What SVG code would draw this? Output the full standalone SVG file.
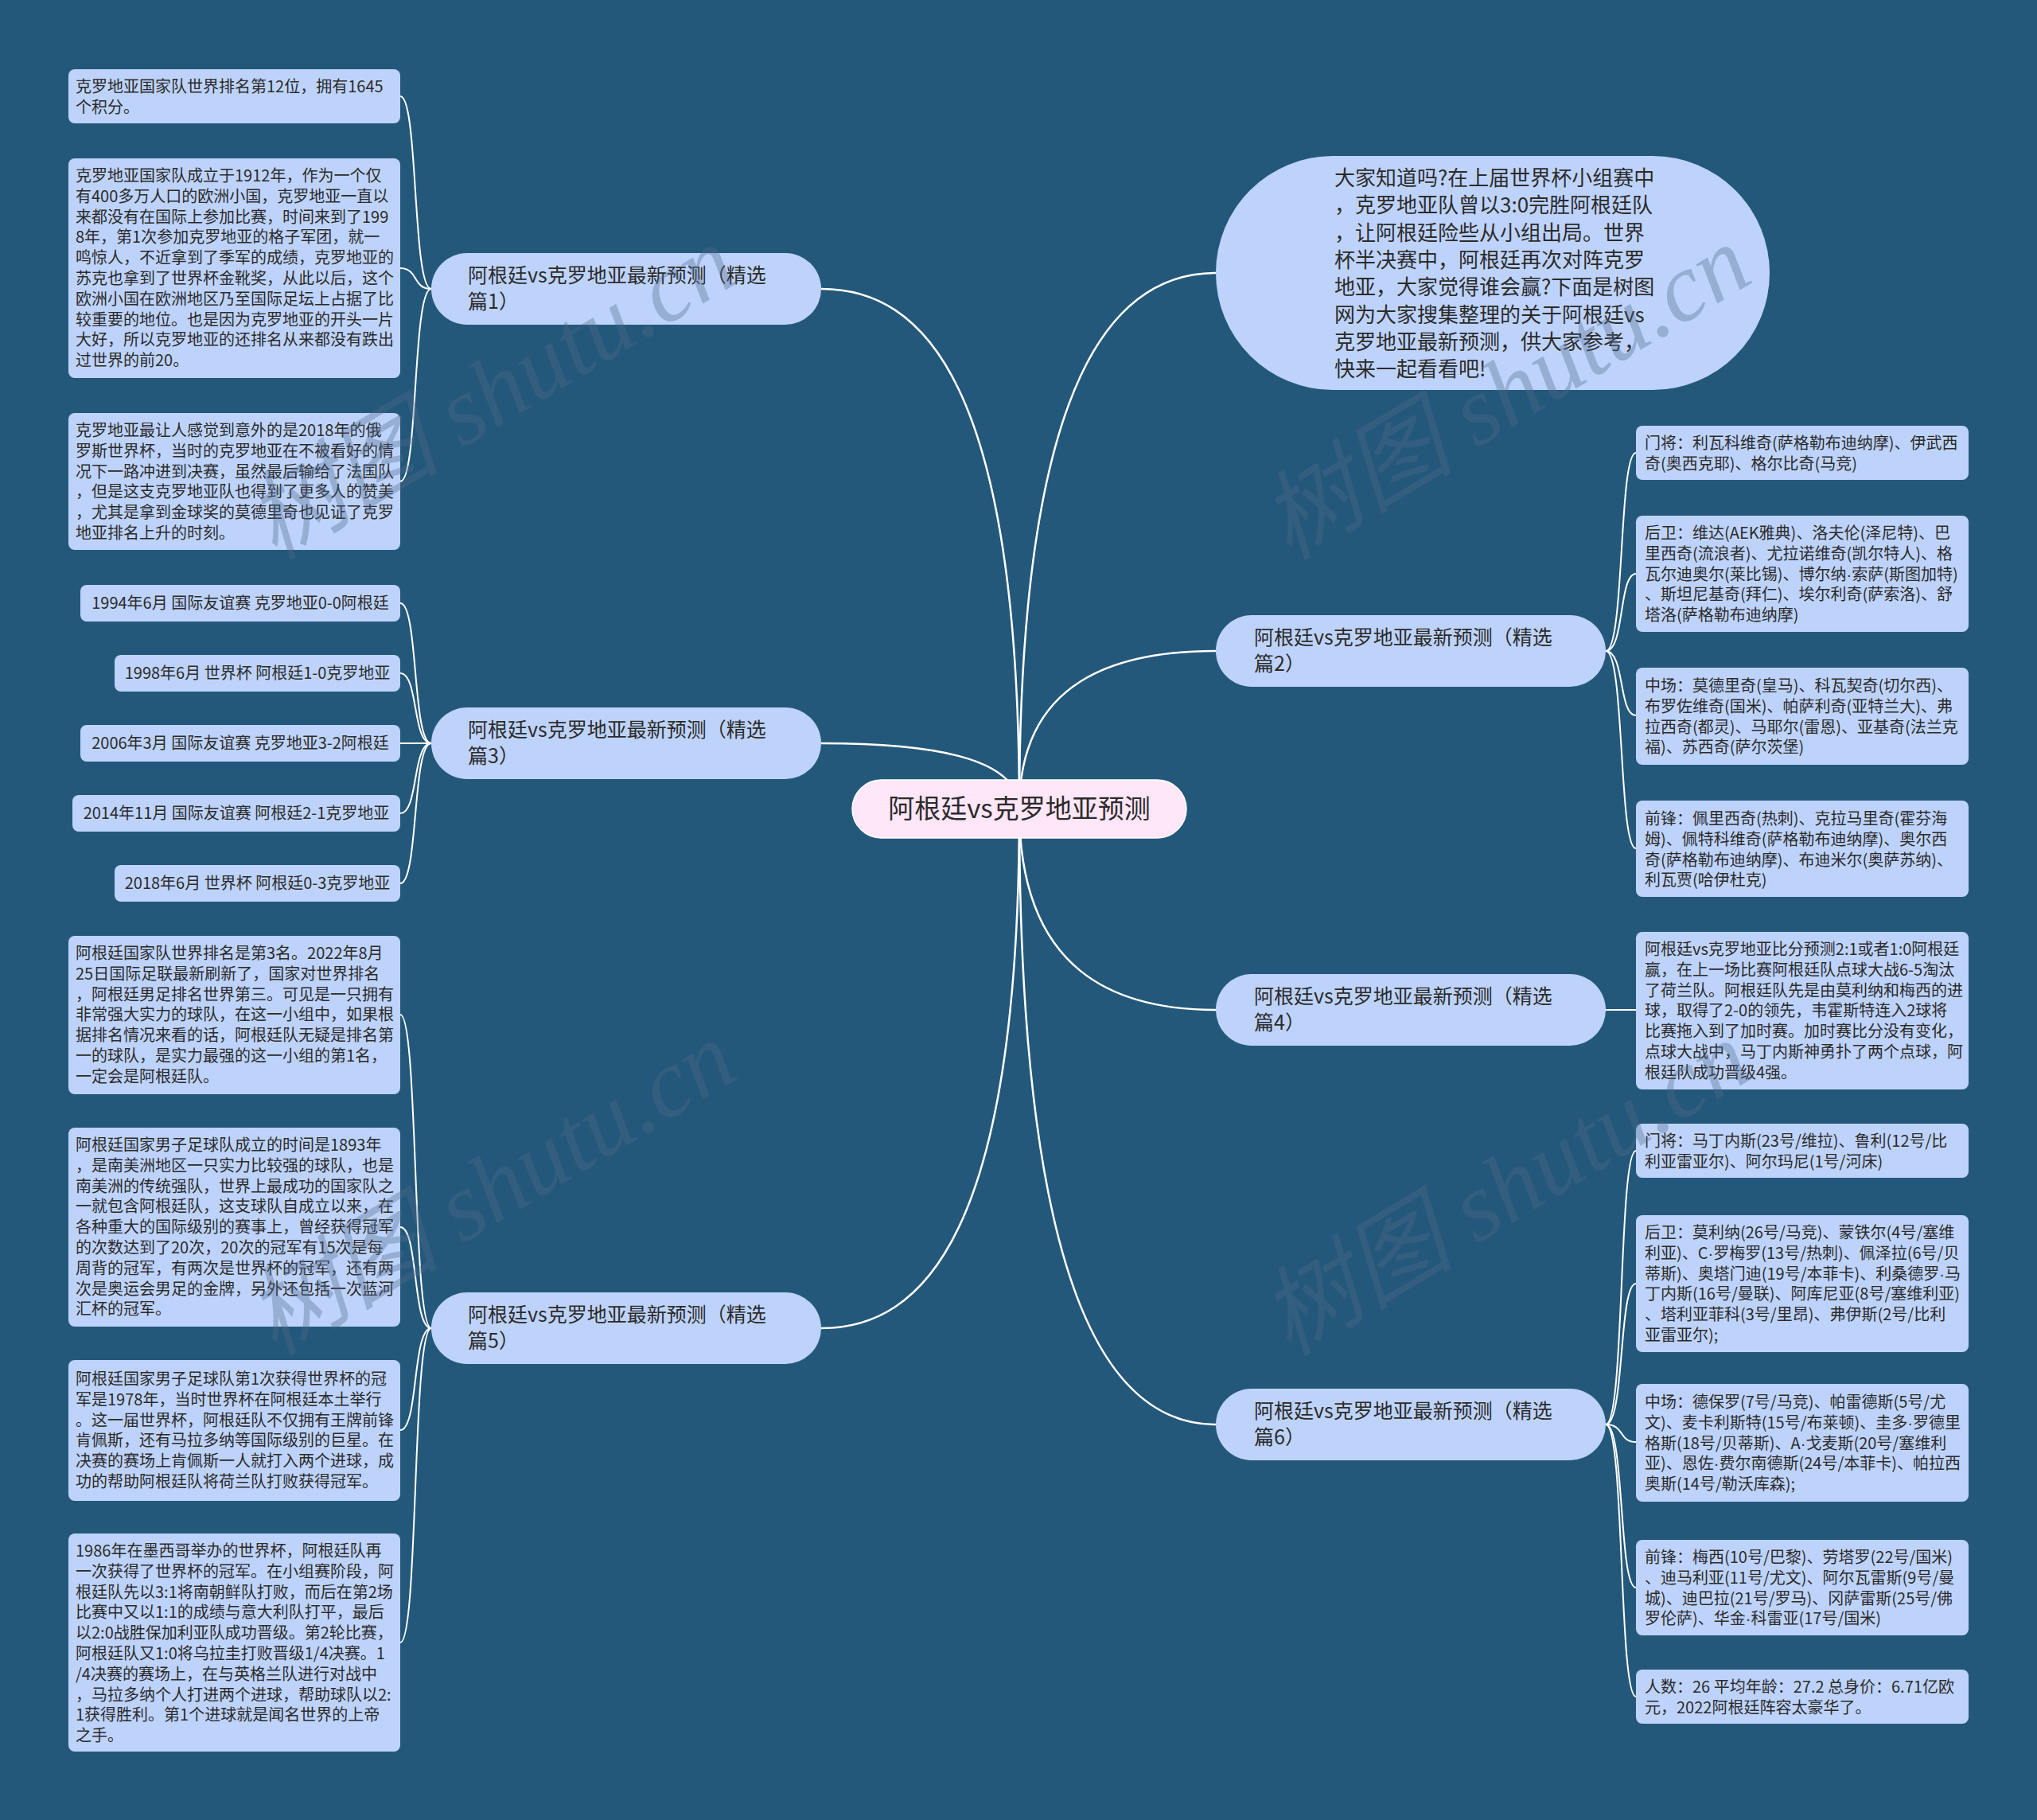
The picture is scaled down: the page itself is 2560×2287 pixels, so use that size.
<svg xmlns="http://www.w3.org/2000/svg" width="2560" height="2287" viewBox="0 0 2560 2287">
<style>
.bg{fill:#24587a}
.box{fill:#bed3fb}
.root{fill:#ffe6f8;stroke:#ffffff;stroke-width:1.5}
.t{font-family:"Noto Sans CJK SC","Noto Sans",sans-serif;font-size:20px;fill:#2b2b2b}
.t1{font-family:"Noto Sans CJK SC","Noto Sans",sans-serif;font-size:25px;fill:#2b2b2b}
.ti{font-family:"Noto Sans CJK SC","Noto Sans",sans-serif;font-size:26px;fill:#2b2b2b}
.tc{font-family:"Noto Sans CJK SC","Noto Sans",sans-serif;font-size:33px;fill:#2b2b2b}
.d{font-family:"Liberation Sans",sans-serif}
.wm{font-family:"Liberation Serif","Noto Sans CJK SC",serif;font-style:italic;font-size:122px;fill:#506a8c;opacity:0.35}
.c{fill:none;stroke:#ffffff;stroke-width:2.5}
.cs{fill:none;stroke:#ffffff;stroke-width:2}
</style>
<rect class="bg" x="0" y="0" width="2560" height="2287"/>

<g id="connectors">
<path class="c" d="M 1032 363 C 1160 363 1281 480 1281 1016"/>
<path class="c" d="M 1032 934 C 1160 934 1281 949 1281 1016"/>
<path class="c" d="M 1032 1669 C 1160 1669 1281 1551 1281 1016"/>
<path class="c" d="M 1528 343 C 1404 343 1281 464 1281 1016"/>
<path class="c" d="M 1528 818 C 1404 818 1281 854 1281 1016"/>
<path class="c" d="M 1528 1269 C 1404 1269 1281 1223 1281 1016"/>
<path class="c" d="M 1528 1790 C 1404 1790 1281 1651 1281 1016"/>
<path class="cs" d="M 542 363 C 518 363 526 121 503 121"/>
<path class="cs" d="M 542 363 C 518 363 526 337 503 337"/>
<path class="cs" d="M 542 363 C 518 363 526 605 503 605"/>
<path class="cs" d="M 542 934 C 518 934 526 758 503 758"/>
<path class="cs" d="M 542 934 C 518 934 526 846 503 846"/>
<path class="cs" d="M 542 934 L 503 934"/>
<path class="cs" d="M 542 934 C 518 934 526 1022 503 1022"/>
<path class="cs" d="M 542 934 C 518 934 526 1110 503 1110"/>
<path class="cs" d="M 542 1669 C 518 1669 526 1275 503 1275"/>
<path class="cs" d="M 542 1669 C 518 1669 526 1542 503 1542"/>
<path class="cs" d="M 542 1669 C 518 1669 526 1797 503 1797"/>
<path class="cs" d="M 542 1669 C 518 1669 526 2064 503 2064"/>
<path class="cs" d="M 2018 818 C 2042 818 2034 569 2056 569"/>
<path class="cs" d="M 2018 818 C 2042 818 2034 721 2056 721"/>
<path class="cs" d="M 2018 818 C 2042 818 2034 899 2056 899"/>
<path class="cs" d="M 2018 818 C 2042 818 2034 1066 2056 1066"/>
<path class="cs" d="M 2018 1269 L 2056 1269"/>
<path class="cs" d="M 2018 1790 C 2042 1790 2034 1446 2056 1446"/>
<path class="cs" d="M 2018 1790 C 2042 1790 2034 1613 2056 1613"/>
<path class="cs" d="M 2018 1790 C 2042 1790 2034 1812 2056 1812"/>
<path class="cs" d="M 2018 1790 C 2042 1790 2034 1995 2056 1995"/>
<path class="cs" d="M 2018 1790 C 2042 1790 2034 2132 2056 2132"/>
</g>

<g id="root">
<rect class="root" x="1071" y="980" width="420" height="73" rx="36.5"/>
<text class="tc" x="1281" y="1028" text-anchor="middle">阿根廷vs克罗地亚预测</text>
</g>

<g id="intro">
<rect class="box" x="1528" y="196" width="696" height="294" rx="147"/>
<text class="ti" x="1677" y="233">大家知道吗?在上届世界杯小组赛中<tspan x="1677" dy="34.3">，克罗地亚队曾以3:0完胜阿根廷队</tspan><tspan x="1677" dy="34.3">，让阿根廷险些从小组出局。世界</tspan><tspan x="1677" dy="34.3">杯半决赛中，阿根廷再次对阵克罗</tspan><tspan x="1677" dy="34.3">地亚，大家觉得谁会赢?下面是树图</tspan><tspan x="1677" dy="34.3">网为大家搜集整理的关于阿根廷vs</tspan><tspan x="1677" dy="34.3">克罗地亚最新预测，供大家参考，</tspan><tspan x="1677" dy="34.3">快来一起看看吧!</tspan></text>
</g>

<g id="b1">
<rect class="box" x="542" y="318" width="490" height="90" rx="45"/>
<text class="t1" x="588" y="355">阿根廷vs克罗地亚最新预测（精选<tspan x="588" dy="33">篇1）</tspan></text>
</g>
<g id="b3">
<rect class="box" x="542" y="889" width="490" height="90" rx="45"/>
<text class="t1" x="588" y="926">阿根廷vs克罗地亚最新预测（精选<tspan x="588" dy="33">篇3）</tspan></text>
</g>
<g id="b5">
<rect class="box" x="542" y="1624" width="490" height="90" rx="45"/>
<text class="t1" x="588" y="1661">阿根廷vs克罗地亚最新预测（精选<tspan x="588" dy="33">篇5）</tspan></text>
</g>
<g id="b2">
<rect class="box" x="1528" y="773" width="490" height="90" rx="45"/>
<text class="t1" x="1576" y="810">阿根廷vs克罗地亚最新预测（精选<tspan x="1576" dy="33">篇2）</tspan></text>
</g>
<g id="b4">
<rect class="box" x="1528" y="1224" width="490" height="90" rx="45"/>
<text class="t1" x="1576" y="1261">阿根廷vs克罗地亚最新预测（精选<tspan x="1576" dy="33">篇4）</tspan></text>
</g>
<g id="b6">
<rect class="box" x="1528" y="1745" width="490" height="90" rx="45"/>
<text class="t1" x="1576" y="1782">阿根廷vs克罗地亚最新预测（精选<tspan x="1576" dy="33">篇6）</tspan></text>
</g>

<g id="a1">
<rect class="box" x="86" y="87" width="417" height="68" rx="8"/>
<text class="t" x="95" y="116">克罗地亚国家队世界排名第12位，拥有1645<tspan x="95" dy="25.8">个积分。</tspan></text>
</g>
<g id="a2">
<rect class="box" x="86" y="199" width="417" height="276" rx="8"/>
<text class="t" x="95" y="228">克罗地亚国家队成立于1912年，作为一个仅<tspan x="95" dy="25.8">有400多万人口的欧洲小国，克罗地亚一直以</tspan><tspan x="95" dy="25.8">来都没有在国际上参加比赛，时间来到了199</tspan><tspan x="95" dy="25.8">8年，第1次参加克罗地亚的格子军团，就一</tspan><tspan x="95" dy="25.8">鸣惊人，不近拿到了季军的成绩，克罗地亚的</tspan><tspan x="95" dy="25.8">苏克也拿到了世界杯金靴奖，从此以后，这个</tspan><tspan x="95" dy="25.8">欧洲小国在欧洲地区乃至国际足坛上占据了比</tspan><tspan x="95" dy="25.8">较重要的地位。也是因为克罗地亚的开头一片</tspan><tspan x="95" dy="25.8">大好，所以克罗地亚的还排名从来都没有跌出</tspan><tspan x="95" dy="25.8">过世界的前20。</tspan></text>
</g>
<g id="a3">
<rect class="box" x="86" y="519" width="417" height="172" rx="8"/>
<text class="t" x="95" y="548">克罗地亚最让人感觉到意外的是2018年的俄<tspan x="95" dy="25.8">罗斯世界杯，当时的克罗地亚在不被看好的情</tspan><tspan x="95" dy="25.8">况下一路冲进到决赛，虽然最后输给了法国队</tspan><tspan x="95" dy="25.8">，但是这支克罗地亚队也得到了更多人的赞美</tspan><tspan x="95" dy="25.8">，尤其是拿到金球奖的莫德里奇也见证了克罗</tspan><tspan x="95" dy="25.8">地亚排名上升的时刻。</tspan></text>
</g>

<g id="m1">
<rect class="box" x="101" y="735" width="402" height="46" rx="8"/>
<text class="t" x="302" y="765" text-anchor="middle">1994年6月 国际友谊赛 克罗地亚0-0阿根廷</text>
</g>
<g id="m2">
<rect class="box" x="144" y="823" width="359" height="46" rx="8"/>
<text class="t" x="323.5" y="853" text-anchor="middle">1998年6月 世界杯 阿根廷1-0克罗地亚</text>
</g>
<g id="m3">
<rect class="box" x="101" y="911" width="402" height="46" rx="8"/>
<text class="t" x="302" y="941" text-anchor="middle">2006年3月 国际友谊赛 克罗地亚3-2阿根廷</text>
</g>
<g id="m4">
<rect class="box" x="91" y="999" width="412" height="46" rx="8"/>
<text class="t" x="297" y="1029" text-anchor="middle">2014年11月 国际友谊赛 阿根廷2-1克罗地亚</text>
</g>
<g id="m5">
<rect class="box" x="144" y="1087" width="359" height="46" rx="8"/>
<text class="t" x="323.5" y="1117" text-anchor="middle">2018年6月 世界杯 阿根廷0-3克罗地亚</text>
</g>

<g id="c1">
<rect class="box" x="86" y="1176" width="417" height="199" rx="8"/>
<text class="t" x="95" y="1205">阿根廷国家队世界排名是第3名。2022年8月<tspan x="95" dy="25.8">25日国际足联最新刷新了，国家对世界排名</tspan><tspan x="95" dy="25.8">，阿根廷男足排名世界第三。可见是一只拥有</tspan><tspan x="95" dy="25.8">非常强大实力的球队，在这一小组中，如果根</tspan><tspan x="95" dy="25.8">据排名情况来看的话，阿根廷队无疑是排名第</tspan><tspan x="95" dy="25.8">一的球队，是实力最强的这一小组的第1名，</tspan><tspan x="95" dy="25.8">一定会是阿根廷队。</tspan></text>
</g>
<g id="c2">
<rect class="box" x="86" y="1417" width="417" height="250" rx="8"/>
<text class="t" x="95" y="1446">阿根廷国家男子足球队成立的时间是1893年<tspan x="95" dy="25.8">，是南美洲地区一只实力比较强的球队，也是</tspan><tspan x="95" dy="25.8">南美洲的传统强队，世界上最成功的国家队之</tspan><tspan x="95" dy="25.8">一就包含阿根廷队，这支球队自成立以来，在</tspan><tspan x="95" dy="25.8">各种重大的国际级别的赛事上，曾经获得冠军</tspan><tspan x="95" dy="25.8">的次数达到了20次，20次的冠军有15次是每</tspan><tspan x="95" dy="25.8">周背的冠军，有两次是世界杯的冠军，还有两</tspan><tspan x="95" dy="25.8">次是奥运会男足的金牌，另外还包括一次蓝河</tspan><tspan x="95" dy="25.8">汇杯的冠军。</tspan></text>
</g>
<g id="c3">
<rect class="box" x="86" y="1709" width="417" height="177" rx="8"/>
<text class="t" x="95" y="1740">阿根廷国家男子足球队第1次获得世界杯的冠<tspan x="95" dy="25.8">军是1978年，当时世界杯在阿根廷本土举行</tspan><tspan x="95" dy="25.8">。这一届世界杯，阿根廷队不仅拥有王牌前锋</tspan><tspan x="95" dy="25.8">肯佩斯，还有马拉多纳等国际级别的巨星。在</tspan><tspan x="95" dy="25.8">决赛的赛场上肯佩斯一人就打入两个进球，成</tspan><tspan x="95" dy="25.8">功的帮助阿根廷队将荷兰队打败获得冠军。</tspan></text>
</g>
<g id="c4">
<rect class="box" x="86" y="1927" width="417" height="274" rx="8"/>
<text class="t" x="95" y="1956">1986年在墨西哥举办的世界杯，阿根廷队再<tspan x="95" dy="25.8">一次获得了世界杯的冠军。在小组赛阶段，阿</tspan><tspan x="95" dy="25.8">根廷队先以3:1将南朝鲜队打败，而后在第2场</tspan><tspan x="95" dy="25.8">比赛中又以1:1的成绩与意大利队打平，最后</tspan><tspan x="95" dy="25.8">以2:0战胜保加利亚队成功晋级。第2轮比赛，</tspan><tspan x="95" dy="25.8">阿根廷队又1:0将乌拉圭打败晋级1/4决赛。1</tspan><tspan x="95" dy="25.8">/4决赛的赛场上，在与英格兰队进行对战中</tspan><tspan x="95" dy="25.8">，马拉多纳个人打进两个进球，帮助球队以2:</tspan><tspan x="95" dy="25.8">1获得胜利。第1个进球就是闻名世界的上帝</tspan><tspan x="95" dy="25.8">之手。</tspan></text>
</g>

<g id="d1">
<rect class="box" x="2056" y="535" width="418" height="68" rx="8"/>
<text class="t" x="2067" y="564">门将：利瓦科维奇(萨格勒布迪纳摩)、伊武西<tspan x="2067" dy="25.8">奇(奥西克耶)、格尔比奇(马竞)</tspan></text>
</g>
<g id="d2">
<rect class="box" x="2056" y="648" width="418" height="146" rx="8"/>
<text class="t" x="2067" y="677">后卫：维达(AEK雅典)、洛夫伦(泽尼特)、巴<tspan x="2067" dy="25.8">里西奇(流浪者)、尤拉诺维奇(凯尔特人)、格</tspan><tspan x="2067" dy="25.8">瓦尔迪奥尔(莱比锡)、博尔纳<tspan class="d">·</tspan>索萨(斯图加特)</tspan><tspan x="2067" dy="25.8">、斯坦尼基奇(拜仁)、埃尔利奇(萨索洛)、舒</tspan><tspan x="2067" dy="25.8">塔洛(萨格勒布迪纳摩)</tspan></text>
</g>
<g id="d3">
<rect class="box" x="2056" y="839" width="418" height="122" rx="8"/>
<text class="t" x="2067" y="869">中场：莫德里奇(皇马)、科瓦契奇(切尔西)、<tspan x="2067" dy="25.8">布罗佐维奇(国米)、帕萨利奇(亚特兰大)、弗</tspan><tspan x="2067" dy="25.8">拉西奇(都灵)、马耶尔(雷恩)、亚基奇(法兰克</tspan><tspan x="2067" dy="25.8">福)、苏西奇(萨尔茨堡)</tspan></text>
</g>
<g id="d4">
<rect class="box" x="2056" y="1006" width="418" height="121" rx="8"/>
<text class="t" x="2067" y="1036">前锋：佩里西奇(热刺)、克拉马里奇(霍芬海<tspan x="2067" dy="25.8">姆)、佩特科维奇(萨格勒布迪纳摩)、奥尔西</tspan><tspan x="2067" dy="25.8">奇(萨格勒布迪纳摩)、布迪米尔(奥萨苏纳)、</tspan><tspan x="2067" dy="25.8">利瓦贾(哈伊杜克)</tspan></text>
</g>

<g id="e1">
<rect class="box" x="2056" y="1171" width="418" height="198" rx="8"/>
<text class="t" x="2067" y="1200">阿根廷vs克罗地亚比分预测2:1或者1:0阿根廷<tspan x="2067" dy="25.8">赢，在上一场比赛阿根廷队点球大战6-5淘汰</tspan><tspan x="2067" dy="25.8">了荷兰队。阿根廷队先是由莫利纳和梅西的进</tspan><tspan x="2067" dy="25.8">球，取得了2-0的领先，韦霍斯特连入2球将</tspan><tspan x="2067" dy="25.8">比赛拖入到了加时赛。加时赛比分没有变化，</tspan><tspan x="2067" dy="25.8">点球大战中，马丁内斯神勇扑了两个点球，阿</tspan><tspan x="2067" dy="25.8">根廷队成功晋级4强。</tspan></text>
</g>

<g id="f1">
<rect class="box" x="2056" y="1412" width="418" height="68" rx="8"/>
<text class="t" x="2067" y="1441">门将：马丁内斯(23号/维拉)、鲁利(12号/比<tspan x="2067" dy="25.8">利亚雷亚尔)、阿尔玛尼(1号/河床)</tspan></text>
</g>
<g id="f2">
<rect class="box" x="2056" y="1527" width="418" height="172" rx="8"/>
<text class="t" x="2067" y="1556">后卫：莫利纳(26号/马竞)、蒙铁尔(4号/塞维<tspan x="2067" dy="25.8">利亚)、C<tspan class="d">·</tspan>罗梅罗(13号/热刺)、佩泽拉(6号/贝</tspan><tspan x="2067" dy="25.8">蒂斯)、奥塔门迪(19号/本菲卡)、利桑德罗<tspan class="d">·</tspan>马</tspan><tspan x="2067" dy="25.8">丁内斯(16号/曼联)、阿库尼亚(8号/塞维利亚)</tspan><tspan x="2067" dy="25.8">、塔利亚菲科(3号/里昂)、弗伊斯(2号/比利</tspan><tspan x="2067" dy="25.8">亚雷亚尔);</tspan></text>
</g>
<g id="f3">
<rect class="box" x="2056" y="1739" width="418" height="148" rx="8"/>
<text class="t" x="2067" y="1769">中场：德保罗(7号/马竞)、帕雷德斯(5号/尤<tspan x="2067" dy="25.8">文)、麦卡利斯特(15号/布莱顿)、圭多<tspan class="d">·</tspan>罗德里</tspan><tspan x="2067" dy="25.8">格斯(18号/贝蒂斯)、A<tspan class="d">·</tspan>戈麦斯(20号/塞维利</tspan><tspan x="2067" dy="25.8">亚)、恩佐<tspan class="d">·</tspan>费尔南德斯(24号/本菲卡)、帕拉西</tspan><tspan x="2067" dy="25.8">奥斯(14号/勒沃库森);</tspan></text>
</g>
<g id="f4">
<rect class="box" x="2056" y="1935" width="418" height="120" rx="8"/>
<text class="t" x="2067" y="1964">前锋：梅西(10号/巴黎)、劳塔罗(22号/国米)<tspan x="2067" dy="25.8">、迪马利亚(11号/尤文)、阿尔瓦雷斯(9号/曼</tspan><tspan x="2067" dy="25.8">城)、迪巴拉(21号/罗马)、冈萨雷斯(25号/佛</tspan><tspan x="2067" dy="25.8">罗伦萨)、华金<tspan class="d">·</tspan>科雷亚(17号/国米)</tspan></text>
</g>
<g id="f5">
<rect class="box" x="2056" y="2098" width="418" height="68" rx="8"/>
<text class="t" x="2067" y="2127">人数：26 平均年龄：27.2 总身价：6.71亿欧<tspan x="2067" dy="25.8">元，2022阿根廷阵容太豪华了。</tspan></text>
</g>

<g id="watermarks">
<text class="wm" transform="translate(345 705) rotate(-31)">树图 shutu.cn</text>
<text class="wm" transform="translate(1620 705) rotate(-31)">树图 shutu.cn</text>
<text class="wm" transform="translate(345 1705) rotate(-31)">树图 shutu.cn</text>
<text class="wm" transform="translate(1620 1705) rotate(-31)">树图 shutu.cn</text>
</g>
</svg>
